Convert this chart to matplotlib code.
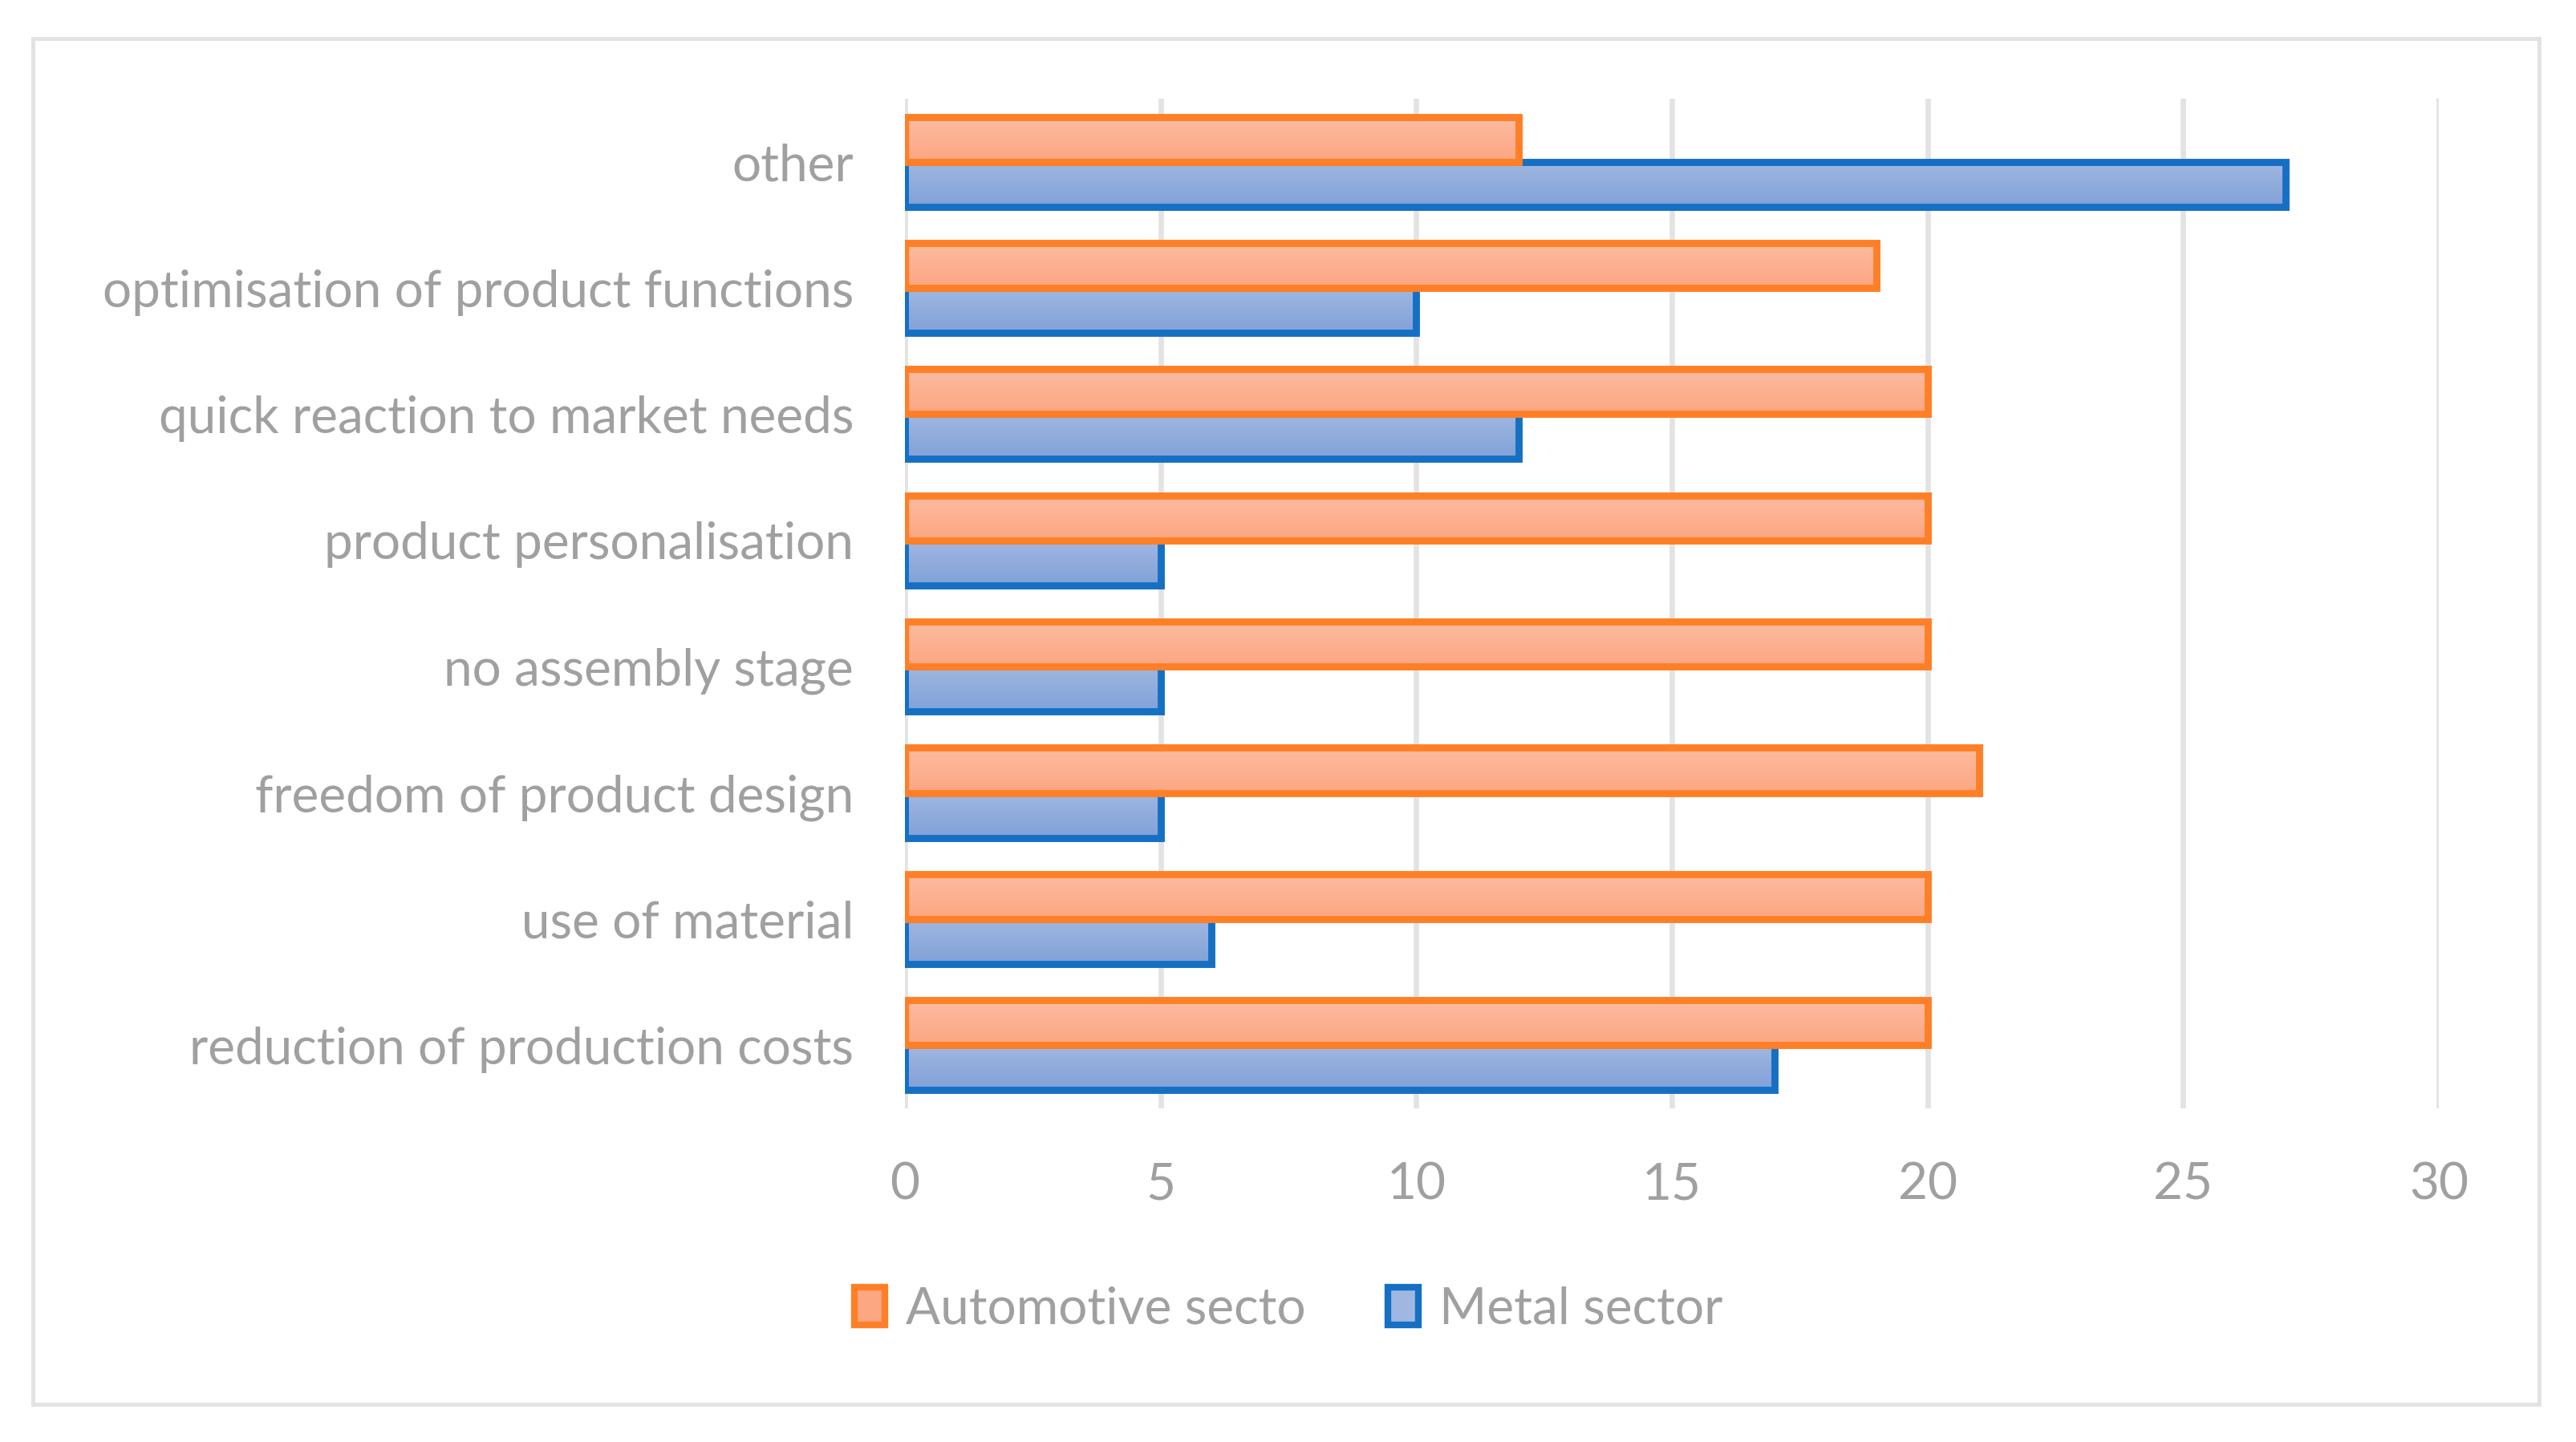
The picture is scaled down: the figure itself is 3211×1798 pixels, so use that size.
import matplotlib.pyplot as plt
import matplotlib.patches as mpatches
import numpy as np
from matplotlib.colors import LinearSegmentedColormap

plt.rcParams['font.family'] = ['Lato', 'DejaVu Sans']

categories = ['reduction of production costs', 'use of material',
              'freedom of product design', 'no assembly stage',
              'product personalisation', 'quick reaction to market needs',
              'optimisation of product functions', 'other']
automotive = [20, 20, 21, 20, 20, 20, 19, 12]
metal = [17, 6, 5, 5, 5, 12, 10, 27]
series_names = ['Automotive secto', 'Metal sector']
xticks = [0, 5, 10, 15, 20, 25, 30]

orange_edge = '#FF7F27'
orange_top = '#FDBBA0'
orange_bot = '#FCA682'
blue_edge = '#1570C4'
blue_top = '#A0B7E1'
blue_bot = '#81A1D8'
grid_gray = '#E3E3E3'
text_gray = '#A0A0A0'

bar_h = 0.356

fig = plt.figure(figsize=(16.06, 8.99), dpi=200)
ax = fig.add_axes([0.3512, 0.2314, 0.5953, 0.7002])

# outer chart border
fig.patches.append(mpatches.Rectangle((41 / 3212, 1 - 1751 / 1798),
                                      (3165 - 41) / 3212, (1751 - 48) / 1798,
                                      transform=fig.transFigure, fill=False,
                                      edgecolor=grid_gray, linewidth=1.8))


def grad_bars(vals, offset, top, bot, edge, z):
    cmap = LinearSegmentedColormap.from_list('g', [bot, top])
    grad = np.linspace(0, 1, 50).reshape(-1, 1)
    y = np.arange(len(vals)) + offset
    for yi, v in zip(y, vals):
        ax.imshow(grad, cmap=cmap, origin='lower', aspect='auto',
                  extent=[0, v, yi - bar_h / 2, yi + bar_h / 2],
                  interpolation='bicubic', zorder=z)
    ax.barh(y, vals, height=bar_h, fill=False, edgecolor=edge,
            linewidth=3.2, zorder=z + 0.5)


grad_bars(metal, -bar_h / 2, blue_top, blue_bot, blue_edge, 2)
grad_bars(automotive, bar_h / 2, orange_top, orange_bot, orange_edge, 3)

ax.set_xlim(0, 30)
ax.set_ylim(-0.5, len(categories) - 0.5)
ax.set_xticks(xticks)
ax.set_yticks(range(len(categories)))
ax.set_yticklabels(categories)
ax.tick_params(axis='x', length=0, pad=24, labelsize=23, labelcolor=text_gray)
ax.tick_params(axis='y', length=0, pad=23, labelsize=23, labelcolor=text_gray)
for s in ax.spines.values():
    s.set_visible(False)
ax.grid(True, axis='x', color=grid_gray, linewidth=2.4, zorder=0)
ax.set_axisbelow(True)

handles = [mpatches.Patch(facecolor=orange_bot, edgecolor=orange_edge, linewidth=3),
           mpatches.Patch(facecolor=blue_top, edgecolor=blue_edge, linewidth=3)]
fig.legend(handles, series_names, loc='center', bbox_to_anchor=(0.5, 0.092),
           ncol=2, frameon=False, fontsize=23, labelcolor=text_gray,
           handlelength=0.6, handleheight=0.75, handletextpad=0.4,
           columnspacing=1.6)

fig.savefig('out.png', dpi=200, facecolor='white')
